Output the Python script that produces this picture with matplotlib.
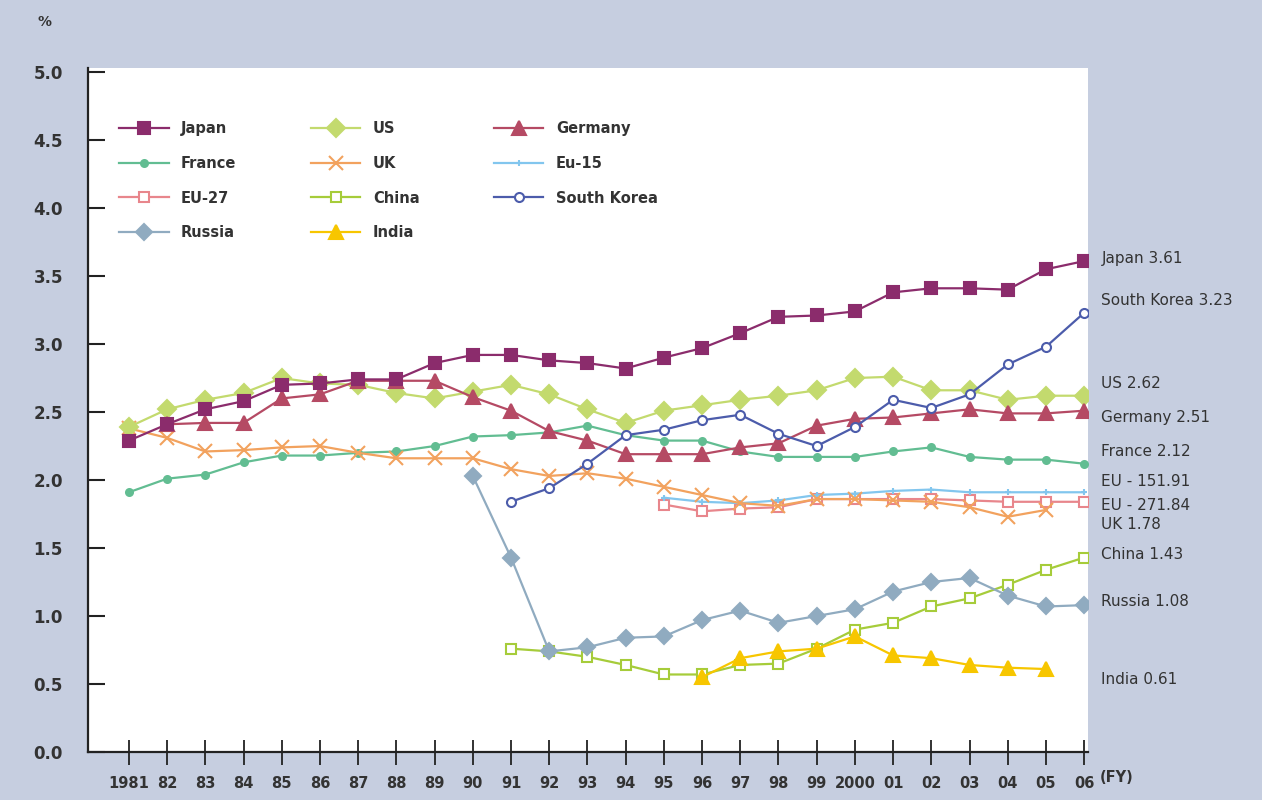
import matplotlib
matplotlib.use("Agg")
import matplotlib.pyplot as plt
import numpy as np

# Gross domestic R&D expenditure as a share of GDP, by fiscal year
years = list(range(1981, 2007))
tick_labels = ["1981", "82", "83", "84", "85", "86", "87", "88", "89", "90",
               "91", "92", "93", "94", "95", "96", "97", "98", "99", "2000",
               "01", "02", "03", "04", "05", "06"]

japan = [2.29, 2.41, 2.52, 2.58, 2.70, 2.71, 2.74, 2.74, 2.86, 2.92, 2.92, 2.88, 2.86,
         2.82, 2.90, 2.97, 3.08, 3.20, 3.21, 3.24, 3.38, 3.41, 3.41, 3.40, 3.55, 3.61]
us = [2.39, 2.52, 2.59, 2.64, 2.75, 2.71, 2.70, 2.64, 2.60, 2.65, 2.70, 2.63, 2.52,
      2.42, 2.51, 2.55, 2.59, 2.62, 2.66, 2.75, 2.76, 2.66, 2.66, 2.59, 2.62, 2.62]
germany = [2.41, 2.42, 2.42, 2.60, 2.63, 2.73, 2.73, 2.73, 2.61, 2.51, 2.36, 2.29,
           2.19, 2.19, 2.19, 2.24, 2.27, 2.40, 2.45, 2.46, 2.49, 2.52, 2.49, 2.49, 2.51]
france = [1.91, 2.01, 2.04, 2.13, 2.18, 2.18, 2.20, 2.21, 2.25, 2.32, 2.33, 2.35, 2.40,
          2.33, 2.29, 2.29, 2.21, 2.17, 2.17, 2.17, 2.21, 2.24, 2.17, 2.15, 2.15, 2.12]
uk = [2.38, 2.31, 2.21, 2.22, 2.24, 2.25, 2.20, 2.16, 2.16, 2.16, 2.08, 2.03, 2.05,
      2.01, 1.95, 1.89, 1.83, 1.81, 1.86, 1.86, 1.85, 1.84, 1.80, 1.73, 1.78]
eu15 = [1.87, 1.84, 1.83, 1.85, 1.89, 1.90, 1.92, 1.93, 1.91, 1.91, 1.91, 1.91]
eu27 = [1.82, 1.77, 1.79, 1.80, 1.86, 1.86, 1.86, 1.86, 1.85, 1.84, 1.84, 1.84]
china = [0.76, 0.74, 0.70, 0.64, 0.57, 0.57, 0.64, 0.65, 0.76, 0.90, 0.95, 1.07, 1.13,
         1.23, 1.34, 1.43]
south_korea = [1.84, 1.94, 2.12, 2.33, 2.37, 2.44, 2.48, 2.34, 2.25, 2.39, 2.59, 2.53,
               2.63, 2.85, 2.98, 3.23]
russia = [2.03, 1.43, 0.74, 0.77, 0.84, 0.85, 0.97, 1.04, 0.95, 1.00, 1.05, 1.18, 1.25,
          1.28, 1.15, 1.07, 1.08]
india = [0.55, 0.69, 0.74, 0.76, 0.85, 0.71, 0.69, 0.64, 0.62, 0.61]

start_year = {"Japan": 1981, "US": 1981, "Germany": 1982, "France": 1981, "UK": 1981,
              "Eu-15": 1995, "EU-27": 1995, "China": 1991, "South Korea": 1991,
              "Russia": 1990, "India": 1996}

# end-of-line annotations: text, vertical placement (data units)
end_labels = [("Japan 3.61", 3.63), ("South Korea 3.23", 3.32), ("US 2.62", 2.71),
              ("Germany 2.51", 2.46), ("France 2.12", 2.21), ("EU - 151.91", 1.99),
              ("EU - 271.84", 1.81), ("UK 1.78", 1.67), ("China 1.43", 1.45),
              ("Russia 1.08", 1.11), ("India 0.61", 0.53)]

series = {
    "Japan": japan, "France": france, "EU-27": eu27, "Russia": russia,
    "US": us, "UK": uk, "China": china, "India": india,
    "Germany": germany, "Eu-15": eu15, "South Korea": south_korea,
}

styles = {
    "Japan":       dict(color="#8b2c6c", marker="s", ms=9, mfc="#8b2c6c", z=10),
    "France":      dict(color="#62bd92", marker="o", ms=5, mfc="#62bd92", z=5),
    "EU-27":       dict(color="#e8868c", marker="s", ms=6.5, mfc="white", z=4),
    "Russia":      dict(color="#90abc0", marker="D", ms=8.5, mfc="#90abc0", z=6),
    "US":          dict(color="#c3da6e", marker="D", ms=9, mfc="#c3da6e", z=7),
    "UK":          dict(color="#f2a25e", marker="x", ms=10, mfc="#f2a25e", z=5),
    "China":       dict(color="#a6cc3a", marker="s", ms=6.5, mfc="white", z=5),
    "India":       dict(color="#f7c600", marker="^", ms=10, mfc="#f7c600", z=6),
    "Germany":     dict(color="#b54a64", marker="^", ms=10, mfc="#b54a64", z=8),
    "Eu-15":       dict(color="#82c6ee", marker="+", ms=5, mfc="#82c6ee", z=4),
    "South Korea": dict(color="#4c5cab", marker="o", ms=6.5, mfc="white", z=9),
}

bg = "#c6cee0"
fig = plt.figure(figsize=(12.62, 8.0), dpi=100, facecolor=bg)
ax = fig.add_axes([88 / 1262, 1 - 752 / 800, 1000 / 1262, (752 - 68) / 800])
ax.set_facecolor("white")

for name, vals in series.items():
    st = styles[name]
    xs = np.arange(start_year[name], start_year[name] + len(vals))
    ax.plot(xs, vals, color=st["color"], lw=1.6, marker=st["marker"], ms=st["ms"],
            mfc=st["mfc"], mec=st["color"], mew=1.5, label=name, zorder=st["z"])

ax.set_xlim(1979.93, 2006.1)
ax.set_ylim(0, 5.03)
ax.set_yticks(np.arange(0, 5.01, 0.5))
ax.set_yticklabels([f"{v:.1f}" for v in np.arange(0, 5.01, 0.5)])
ax.set_xticks(years)
ax.set_xticklabels(tick_labels)

for s in ("top", "right"):
    ax.spines[s].set_visible(False)
for s in ("left", "bottom"):
    ax.spines[s].set_linewidth(1.6)
    ax.spines[s].set_color("#222222")

ax.tick_params(axis="y", direction="in", length=12, width=1.5, color="#222222",
               labelsize=12, pad=18, labelcolor="#333333")
ax.tick_params(axis="x", direction="inout", length=18, width=1.3, color="#222222",
               labelsize=10.5, pad=8, labelcolor="#333333")
for lab in ax.get_xticklabels() + ax.get_yticklabels():
    lab.set_fontweight("bold")

leg = ax.legend(ncol=3, loc="upper left", bbox_to_anchor=(0.018, 0.941), frameon=False,
                handlelength=3.4, handletextpad=0.85, columnspacing=5.1,
                labelspacing=1.34, prop=dict(size=10.5, weight="bold"))
for t in leg.get_texts():
    t.set_color("#333333")

for text, yv in end_labels:
    ax.text(2006.45, yv, text, fontsize=11, color="#333333", va="center", ha="left",
            clip_on=False)

fig.text(45 / 1262, 1 - 22 / 800, "%", fontsize=10, fontweight="bold",
         color="#333333", ha="center", va="center")
fig.text(1117 / 1262, 1 - 778 / 800, "(FY)", fontsize=10.5, fontweight="bold",
         color="#333333", ha="center", va="center")

fig.savefig("out.png", dpi=100, facecolor=bg)
